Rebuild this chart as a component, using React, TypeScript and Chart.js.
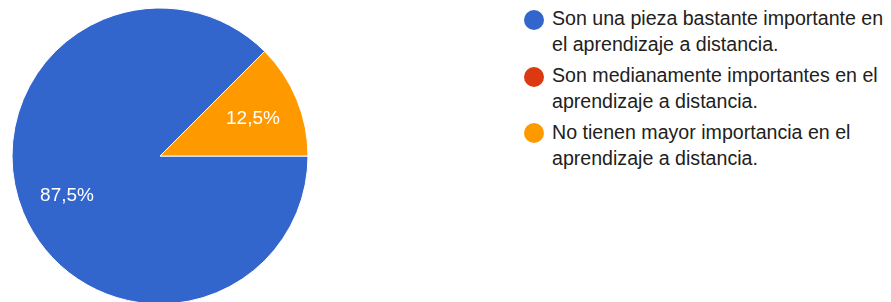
import React, { useEffect, useRef } from "react";
import { Chart, registerables } from "chart.js";

Chart.register(...registerables);

const categoryLines: string[][] = [
  ["Son una pieza bastante importante en", "el aprendizaje a distancia."],
  ["Son medianamente importantes en el", "aprendizaje a distancia."],
  ["No tienen mayor importancia en el", "aprendizaje a distancia."],
];
const categories = categoryLines.map((l) => l.join(" "));
const values = [87.5, 0, 12.5];
const valueLabels = ["87,5%", "", "12,5%"];
const colors = ["#3366cc", "#dc3912", "#ff9900"];

const FONT = "'Liberation Sans', Arial, Helvetica, sans-serif";

const sliceLabels = {
  id: "sliceLabels",
  afterDatasetsDraw(chart: any) {
    const meta = chart.getDatasetMeta(0);
    const ctx = chart.ctx;
    ctx.save();
    ctx.font = `19px ${FONT}`;
    ctx.fillStyle = "#ffffff";
    ctx.textAlign = "center";
    ctx.textBaseline = "middle";
    meta.data.forEach((arc: any, i: number) => {
      if (!values[i]) return;
      const { x, y, startAngle, endAngle, outerRadius } = arc.getProps(
        ["x", "y", "startAngle", "endAngle", "outerRadius"],
        true
      );
      const mid = (startAngle + endAngle) / 2;
      const r = outerRadius * 0.68;
      ctx.fillText(valueLabels[i], x + Math.cos(mid) * r, y + Math.sin(mid) * r + 1);
    });
    ctx.restore();
  },
};

export default function App() {
  const canvasRef = useRef<HTMLCanvasElement | null>(null);

  useEffect(() => {
    if (!canvasRef.current) return;
    const chart = new Chart(canvasRef.current, {
      type: "pie",
      data: {
        labels: categories,
        datasets: [
          {
            data: values,
            backgroundColor: colors,
            borderColor: "#ffffff",
            borderWidth: [1, 0, 1],
            radius: 148,
          } as any,
        ],
      },
      options: {
        responsive: false,
        animation: false,
        rotation: 90,
        layout: { padding: 0 },
        plugins: {
          legend: { display: false },
          tooltip: { enabled: false },
        },
        events: [],
      } as any,
      plugins: [sliceLabels],
    });
    return () => chart.destroy();
  }, []);

  return (
    <div
      style={{
        position: "absolute",
        left: 0,
        top: 0,
        width: 891,
        height: 302,
        overflow: "hidden",
        background: "#ffffff",
        fontFamily: FONT,
      }}
    >
      <canvas
        ref={canvasRef}
        width={320}
        height={312}
        style={{ position: "absolute", left: 0, top: 0, width: 320, height: 312 }}
      />
      {categoryLines.map((lines, i) => (
        <React.Fragment key={i}>
          <div
            style={{
              position: "absolute",
              left: 524.3,
              top: 10 + 56.7 * i,
              width: 20,
              height: 20,
              borderRadius: "50%",
              background: colors[i],
            }}
          />
          <div
            style={{
              position: "absolute",
              left: 552,
              top: 6.4 + 57 * i,
              fontSize: "19.6px",
              lineHeight: "25.7px",
              color: "#212121",
              whiteSpace: "nowrap",
            }}
          >
            {lines.map((t, j) => (
              <div key={j}>{t}</div>
            ))}
          </div>
        </React.Fragment>
      ))}
    </div>
  );
}
